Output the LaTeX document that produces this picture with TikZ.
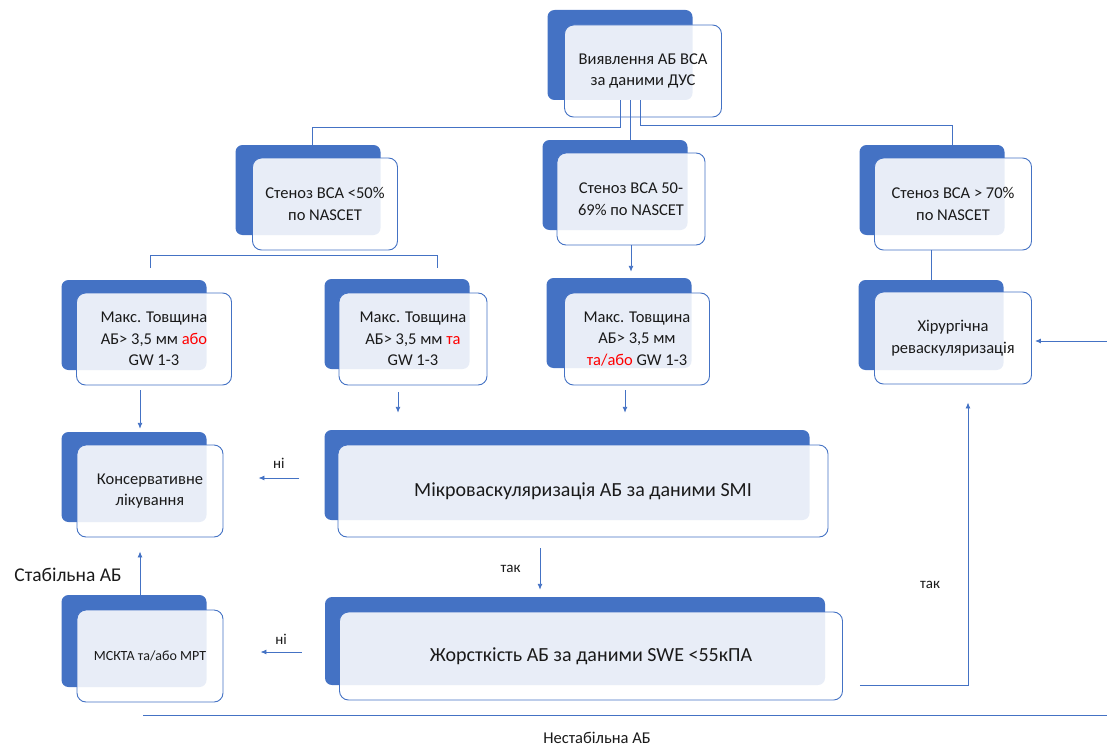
\documentclass[tikz,border=0pt]{standalone}
\usepackage{fontspec}
\setmainfont{Carlito}
\usetikzlibrary{positioning,calc,arrows.meta}
\definecolor{abblue}{HTML}{4472C4}
\definecolor{abtext}{HTML}{1A1A1A}
\newcommand{\abfont}{\fontsize{16.5}{21.5}\selectfont}
\newcommand{\abbigfont}{\fontsize{20}{24}\selectfont}
\newcommand{\ablabfont}{\fontsize{15}{18}\selectfont}

\begin{document}
\begin{tikzpicture}[x=1pt, y=-1pt,
		back/.style={fill=abblue, rounded corners=7pt, minimum width=145pt, minimum height=90pt, inner sep=0pt},
		front/.style={draw=abblue, line width=0.9pt, fill=white, fill opacity=0.88, text opacity=1, rounded corners=9pt, minimum width=148pt, minimum height=92pt, inner sep=0pt, align=center, font=\abfont, text=abtext},
		conn/.style={draw=abblue, line width=0.9pt},
		arr/.style={conn, -{Latex[length=6pt, width=5pt]}},
		lbl/.style={font=\ablabfont, text=abtext, inner sep=1pt}]
		\useasboundingbox (0,0) rectangle (1107,749);

		\node[back] (topB) at (620,55) {};
		\node[front, minimum width=157pt] (top) at (643,71) {Виявлення АБ ВСА\\за даними ДУС};

		\node[back] (s50B) at (308,190) {};
		\node[front, minimum width=145pt] (s50) at (325,204) {Стеноз ВСА <50\%\\по NASCET};
		\node[back] (s69B) at (615,185) {};
		\node[front] (s69) at (631,199) {Стеноз ВСА 50-\\69\% по NASCET};
		\node[back] (s70B) at (932,190) {};
		\node[front, minimum width=157pt] (s70) at (953,204) {Стеноз ВСА > 70\%\\по NASCET};

		\node[back] (t1B) at (134,325) {};
		\node[front, minimum width=155pt] (t1) at (154,339) {Макс. Товщина\\АБ> 3,5 мм \textcolor{red}{або}\\GW 1-3};
		\node[back] (t2B) at (397,324) {};
		\node[front] (t2) at (413,339) {Макс. Товщина\\АБ> 3,5 мм \textcolor{red}{та}\\GW 1-3};
		\node[back] (t3B) at (619,323) {};
		\node[front, minimum width=145pt] (t3) at (637,339) {Макс. Товщина\\АБ> 3,5 мм\\\textcolor{red}{та/або} GW 1-3};
		\node[back] (surgB) at (931,325) {};
		\node[front, minimum width=157pt] (surg) at (953,338) {Хірургічна\\реваскуляризація};

		\node[back] (consB) at (134,477) {};
		\node[front, minimum width=146pt] (cons) at (150,491) {Консервативне\\лікування};
		\node[back, minimum width=485pt] (microB) at (567,475) {};
		\node[front, minimum width=490pt, font=\abbigfont] (micro) at (583,491) {Мікроваскуляризація АБ за даними SMI};

		\node[back, minimum height=92pt] (msktB) at (134,641) {};
		\node[front, minimum width=146pt, font=\fontsize{14}{17}\selectfont] (mskt) at (150,656) {МСКТА та/або МРТ};
		\node[back, minimum width=500pt, minimum height=88pt] (sweB) at (575,641) {};
		\node[front, minimum width=503pt, minimum height=88pt, font=\abbigfont] (swe) at (591,656) {Жорсткість АБ за даними SWE <55кПА};

		% from the top box
		\draw[conn] (topB.south) -- ++(0,27) -| ($(s50B.north)+(4,0)$);
		\draw[conn] ($(topB.south)+(10,0)$) -- ($(s69B.north)+(15,0)$);
		\draw[conn] ($(topB.south)+(20,0)$) -- ++(0,25) -| ($(s70B.north)+(20,0)$);

		\coordinate (s50L) at (150,268);
		\coordinate (s50R) at (437,268);
		\draw[conn] (s50L) |- ($(s50.south)+(0,5)$) -| (s50R);
		\draw[arr] (s69.south) -- ($(s69.south |- t3B.north)+(0,-6)$);
		\draw[conn] (s70.south -| surgB.north) -- (surgB.north);

		\draw[arr] ($(t1.south -| consB.north)+(6,5)$) -- ($(consB.north)+(6,-3)$);
		\draw[arr] ($(t2.south -| t2B.south)+(1,7)$) -- ($(microB.north -| t2B.south)+(1,-17)$);
		\draw[arr] ($(t3.south -| t3B.south)+(6,5)$) -- ($(microB.north -| t3B.south)+(6,-17)$);

		\draw[arr] ($(microB.west)+(-25,3)$) -- ($(cons.east |- microB.west)+(35,3)$) node[lbl, midway, above=8pt] (no1) {ні};
		\draw[arr] ($(micro.south)+(-43,11)$) -- ($(sweB.north)+(-35,-7)$) node[lbl, midway, left=18pt] (yes1) {так};
		\draw[arr] ($(sweB.west)+(-23,11)$) -- ($(mskt.east |- sweB.west)+(37,11)$) node[lbl, midway, above=6pt] (no2) {ні};
		\draw[arr] ($(msktB.north)+(6,0)$) -- ($(cons.south -| msktB.north)+(6,14)$);
		\node[font=\fontsize{19.5}{22}\selectfont, text=abtext] (stab) at (68,575) {Стабільна АБ};

		\draw[arr] ($(swe.east)+(17,29)$) -| ($(surg.south)+(15,18)$);
		\node[lbl] (yes2) at (930,585) {так};

		\coordinate (extR) at (1107,341);
		\draw[arr] (extR) -- ($(surg.east |- extR)+(3,0)$);

		\coordinate (uL) at (143,715);
		\coordinate (uR) at (1107,715);
		\draw[conn] (uL) -- (uR);
		\node[font=\fontsize{16.5}{19}\selectfont, text=abtext] (unst) at (597,738) {Нестабільна АБ};
	\end{tikzpicture}
\end{document}
